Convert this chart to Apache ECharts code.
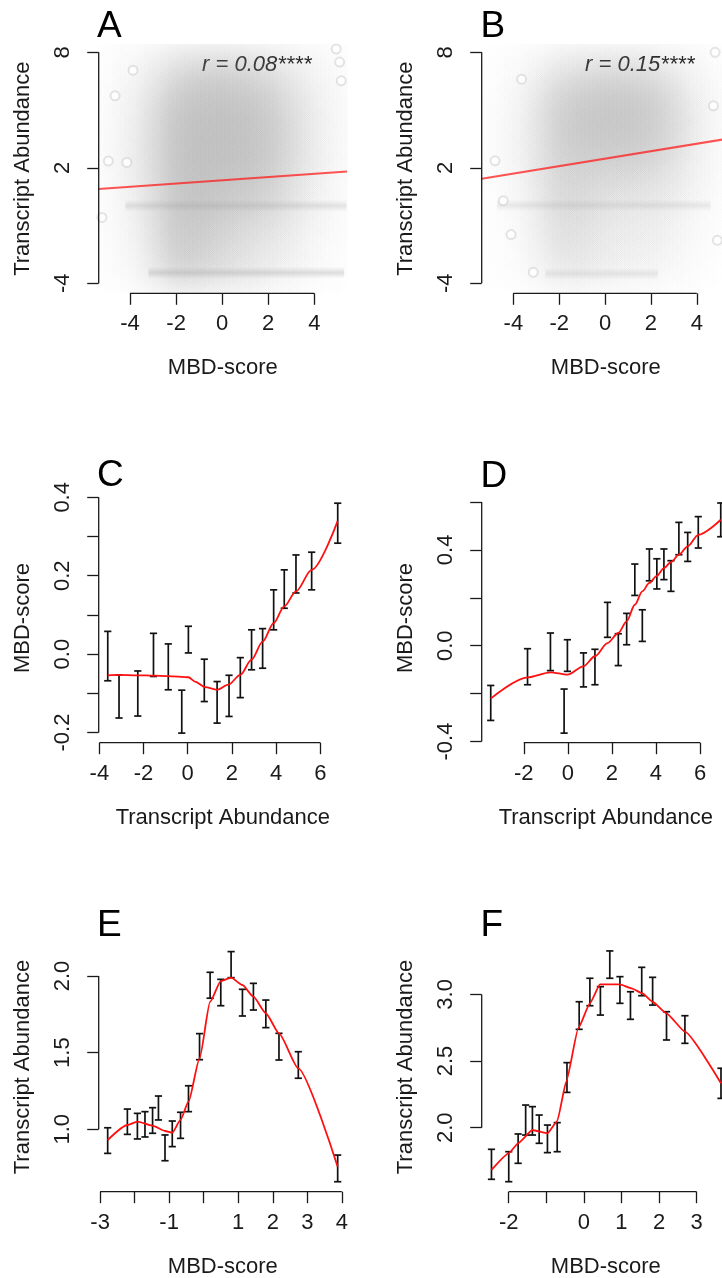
<!DOCTYPE html>
<html><head><meta charset="utf-8">
<script src="https://cdn.jsdelivr.net/npm/echarts@6/dist/echarts.min.js"></script>
<style>html,body{margin:0;padding:0;background:#fff}#c{width:722px;height:1278px}</style>
</head><body><div id="c"></div>
<script>
// ================= DATA =================
// Panels A/B: density of the grey scatter cloud, rows y=8..-4, cols x=-5..5
const densX = [-5,-4,-3,-2,-1,0,1,2,3,4,5];
const densY = [8,7,6,5,4,3,2,1,0,-1,-2,-3,-4];
const densA = [
 [.03,.06,.12,.20,.25,.25,.22,.18,.12,.08,.05],
 [.04,.10,.22,.45,.60,.60,.55,.42,.25,.12,.06],
 [.05,.13,.32,.70,.85,.85,.80,.62,.38,.17,.08],
 [.06,.15,.40,.85,.95,.95,.90,.75,.45,.20,.10],
 [.07,.18,.45,.90,1.0,1.0,.95,.80,.50,.22,.10],
 [.07,.18,.45,.90,1.0,1.0,.95,.80,.50,.22,.10],
 [.07,.18,.45,.90,1.0,.95,.90,.75,.45,.20,.10],
 [.06,.15,.40,.85,.95,.85,.80,.65,.40,.18,.08],
 [.05,.15,.40,.85,.90,.80,.70,.55,.35,.15,.08],
 [.04,.12,.35,.80,.80,.65,.50,.40,.25,.12,.06],
 [.04,.10,.30,.75,.70,.55,.40,.30,.20,.10,.05],
 [.03,.10,.25,.65,.60,.45,.35,.25,.15,.08,.04],
 [.02,.05,.15,.35,.30,.25,.20,.15,.10,.05,.02]
];
const densB = [
 [.02,.04,.08,.14,.18,.18,.18,.15,.10,.06,.03],
 [.03,.06,.14,.32,.42,.46,.46,.40,.26,.11,.05],
 [.03,.08,.25,.55,.70,.75,.75,.65,.40,.15,.06],
 [.04,.10,.30,.65,.80,.85,.85,.75,.50,.20,.08],
 [.04,.10,.30,.70,.85,.85,.85,.75,.50,.20,.08],
 [.04,.10,.30,.65,.75,.75,.75,.65,.45,.18,.07],
 [.04,.10,.28,.60,.65,.60,.60,.50,.35,.15,.06],
 [.03,.08,.25,.55,.55,.45,.40,.35,.25,.12,.05],
 [.03,.08,.20,.50,.50,.35,.30,.30,.20,.10,.04],
 [.02,.06,.18,.45,.40,.30,.25,.25,.15,.08,.03],
 [.02,.05,.15,.40,.35,.25,.20,.20,.12,.06,.03],
 [.02,.05,.12,.30,.30,.20,.18,.15,.10,.05,.02],
 [.01,.03,.06,.15,.15,.10,.10,.08,.05,.03,.01]
];
// horizontal bands of tied values: [xStart, xEnd, y, density]
const bandsA = [[-4.2,5.4,0.03,0.8],[-3.2,5.3,-3.45,1.0]];
const bandsB = [[-4.7,4.6,0.05,0.6],[-2.6,2.3,-3.5,0.6]];
// isolated points
const outA = [[-4.94,2.35],[-4.14,2.28],[-3.87,7.07],[-4.65,5.74],[-5.22,-0.58],[4.95,8.17],[5.17,6.52],[5.1,7.49]];
const outB = [[-4.8,2.36],[-3.64,6.6],[-4.1,-1.47],[-4.44,0.29],[4.73,5.22],[4.8,8.0],[-3.13,-3.43],[4.9,-1.77]];
// regression lines
const regA = [[-5.36,0.90],[5.42,1.81]];
const regB = [[-5.38,1.43],[5.45,3.53]];
const rTextA = 'r = 0.08****';
const rTextB = 'r = 0.15****';

// Panels C-F: error bars [x, low, high] and smooth lines [x, y]
const barsC = [[-3.62,-0.068,0.058],[-3.11,-0.163,-0.053],[-2.26,-0.158,-0.043],[-1.55,-0.057,0.053],[-0.88,-0.091,0.026],[-0.27,-0.2015,-0.092],[0.03,0.003,0.071],[0.75,-0.121,-0.013],[1.33,-0.176,-0.070],[1.87,-0.159,-0.054],[2.38,-0.111,-0.009],[2.89,-0.040,0.062],[3.39,-0.036,0.065],[3.89,0.062,0.164],[4.37,0.117,0.215],[4.90,0.156,0.253],[5.61,0.164,0.260],[6.79,0.283,0.385]];
const lineC = [[-3.62,-0.054],[-3.11,-0.053],[-2.26,-0.054],[-1.55,-0.055],[-0.88,-0.056],[0.03,-0.059],[0.33,-0.070],[0.78,-0.084],[1.33,-0.091],[1.84,-0.078],[2.38,-0.053],[2.89,-0.014],[3.39,0.032],[3.89,0.079],[4.37,0.122],[4.90,0.160],[5.61,0.215],[6.79,0.340]];
const barsD = [[-3.50,-0.312,-0.166],[-1.83,-0.163,-0.0125],[-0.79,-0.104,0.053],[-0.17,-0.365,-0.181],[-0.02,-0.107,0.025],[0.71,-0.172,-0.030],[1.23,-0.163,-0.015],[1.80,0.035,0.181],[2.29,-0.083,0.050],[2.67,0.004,0.135],[3.04,0.210,0.341],[3.38,0.018,0.150],[3.70,0.271,0.404],[4.04,0.237,0.363],[4.36,0.276,0.404],[4.68,0.227,0.355],[5.04,0.380,0.515],[5.44,0.352,0.473],[5.92,0.408,0.539],[6.94,0.455,0.596]];
const lineD = [[-3.50,-0.221],[-1.83,-0.132],[-0.79,-0.111],[-0.02,-0.121],[0.71,-0.086],[1.23,-0.044],[1.80,0.011],[2.29,0.053],[2.67,0.102],[3.04,0.171],[3.38,0.227],[3.70,0.262],[4.04,0.292],[4.36,0.324],[4.68,0.349],[5.04,0.380],[5.44,0.415],[5.92,0.463],[6.94,0.526]];
const barsE = [[-2.78,0.843,1.010],[-2.21,0.967,1.132],[-1.92,0.937,1.104],[-1.70,0.950,1.115],[-1.48,0.974,1.141],[-1.31,1.061,1.217],[-1.12,0.795,0.963],[-0.91,0.887,1.054],[-0.67,0.941,1.111],[-0.44,1.115,1.284],[-0.12,1.454,1.624],[0.186,1.855,2.024],[0.495,1.806,1.978],[0.794,1.989,2.159],[1.122,1.739,1.913],[1.44,1.778,1.952],[1.80,1.663,1.843],[2.18,1.452,1.626],[2.74,1.333,1.506],[3.88,0.658,0.832]];
const lineE = [[-2.78,0.930],[-2.21,1.028],[-1.92,1.050],[-1.48,1.024],[-1.12,0.989],[-0.91,0.978],[-0.67,1.061],[-0.44,1.180],[-0.12,1.463],[0.186,1.832],[0.495,1.967],[0.794,1.989],[1.122,1.941],[1.44,1.865],[1.80,1.757],[2.18,1.626],[2.74,1.398],[3.88,0.756]];
const barsF = [[-2.46,1.613,1.838],[-2.00,1.595,1.820],[-1.75,1.733,1.953],[-1.55,1.945,2.170],[-1.37,1.945,2.158],[-1.19,1.883,2.095],[-0.97,1.813,2.020],[-0.71,1.820,2.038],[-0.45,2.265,2.488],[-0.125,2.738,2.945],[0.16,2.915,3.121],[0.44,2.845,3.058],[0.69,3.121,3.326],[0.96,2.933,3.133],[1.24,2.813,3.020],[1.54,2.990,3.203],[1.83,2.920,3.128],[2.20,2.658,2.870],[2.69,2.633,2.840],[3.65,2.220,2.446]];
const lineF = [[-2.46,1.683],[-2.00,1.808],[-1.75,1.883],[-1.37,1.983],[-0.97,1.958],[-0.71,2.050],[-0.47,2.345],[-0.15,2.745],[0.16,2.933],[0.43,3.075],[0.96,3.075],[1.27,3.045],[1.56,3.008],[1.83,2.945],[2.20,2.858],[2.69,2.720],[3.65,2.333]];

// tick positions and labelled ticks
const ticksAx = [-4,-2,0,2,4], ticksAy = [-4,2,8];
const ticksCx = [-4,-2,0,2,4,6], ticksCy = [-0.2,-0.1,0,0.1,0.2,0.3,0.4], labelsCy = [-0.2,0,0.2,0.4];
const ticksDx = [-2,0,2,4,6], ticksDy = [-0.4,-0.2,0,0.2,0.4,0.6], labelsDy = [-0.4,0,0.4];
const ticksEx = [-3,-2,-1,0,1,2,3,4], labelsEx = [-3,-1,1,2,3,4], ticksEy = [1,1.5,2];
const ticksFx = [-2,-1,0,1,2,3], labelsFx = [-2,0,1,2,3], ticksFy = [2,2.5,3];
const panelLetters = ['A','B','C','D','E','F'];
const nameMBD = 'MBD-score', nameTA = 'Transcript Abundance';

// ================= RENDER =================
const FONT = '"Liberation Sans", Arial, Helvetica, sans-serif';
const INK = '#1a1a1a';
const chart = echarts.init(document.getElementById('c'), null, {renderer:'canvas', width:722, height:1278});

const L = 98.7, R = 481.7, W = 248.3, H = 249.3;
const tops = [44, 493.4, 942.4];
const panels = [
 {left:L, top:tops[0], xr:[-5.36,5.42], yr:[-4.52,8.43], xt:ticksAx, xl:ticksAx, yt:ticksAy, yl:ticksAy, xn:nameMBD, yn:nameTA, yf:0},
 {left:R, top:tops[0], xr:[-5.38,5.45], yr:[-4.52,8.43], xt:ticksAx, xl:ticksAx, yt:ticksAy, yl:ticksAy, xn:nameMBD, yn:nameTA, yf:0},
 {left:L, top:tops[1], xr:[-4.03,7.21], yr:[-0.226,0.41], xt:ticksCx, xl:ticksCx, yt:ticksCy, yl:labelsCy, xn:nameTA, yn:nameMBD, yf:1},
 {left:R, top:tops[1], xr:[-3.91,7.36], yr:[-0.405,0.636], xt:ticksDx, xl:ticksDx, yt:ticksDy, yl:labelsDy, xn:nameTA, yn:nameMBD, yf:1},
 {left:L, top:tops[2], xr:[-3.04,4.15], yr:[0.593,2.219], xt:ticksEx, xl:labelsEx, yt:ticksEy, yl:ticksEy, xn:nameMBD, yn:nameTA, yf:1},
 {left:R, top:tops[2], xr:[-2.72,3.89], yr:[1.52,3.39], xt:ticksFx, xl:labelsFx, yt:ticksFy, yl:ticksFy, xn:nameMBD, yn:nameTA, yf:1}
];

const grid = [], xAxis = [], yAxis = [], series = [], graphic = [];
const txt = {color:INK, fontSize:22, fontFamily:FONT};
panels.forEach((p, i) => {
  grid.push({left:p.left, top:p.top, width:W, height:H, containLabel:false, outerBoundsMode:'none'});
  xAxis.push({type:'value', gridIndex:i, min:p.xr[0], max:p.xr[1], position:'bottom',
    axisLine:{show:false, onZero:false}, splitLine:{show:false},
    axisTick:{show:true, customValues:p.xt, length:11.5, lineStyle:{color:INK, width:1.3}},
    axisLabel:{show:true, customValues:p.xl, margin:20, formatter:v=>String(v), ...txt},
    name:p.xn, nameLocation:'middle', nameGap:64, nameTextStyle:txt});
  yAxis.push({type:'value', gridIndex:i, min:p.yr[0], max:p.yr[1], position:'left',
    axisLine:{show:false, onZero:false}, splitLine:{show:false},
    axisTick:{show:true, customValues:p.yt, length:11.5, lineStyle:{color:INK, width:1.3}},
    axisLabel:{show:true, customValues:p.yl, rotate:90, margin:25, formatter:v=>p.yf? v.toFixed(1) : String(v), ...txt},
    name:p.yn, nameLocation:'middle', nameGap:65, nameTextStyle:txt});
  // R-style axis lines: from first to last tick
  const axStyle = {color:INK, width:1.3};
  series.push({type:'line', xAxisIndex:i, yAxisIndex:i, clip:false, silent:true, symbol:'none', z:5,
    lineStyle:axStyle, data:[[p.xt[0], p.yr[0]],[p.xt[p.xt.length-1], p.yr[0]]]});
  series.push({type:'line', xAxisIndex:i, yAxisIndex:i, clip:false, silent:true, symbol:'none', z:5,
    lineStyle:axStyle, data:[[p.xr[0], p.yt[0]],[p.xr[0], p.yt[p.yt.length-1]]]});
});

function densData(m){
  const out = [];
  densY.forEach((y, r) => densX.forEach((x, c) => { if (m[r][c] > 0) out.push([x, y, m[r][c]]); }));
  return out;
}
// gaussian-like soft blob for each density cell
const GAUSS = [[0,1],[0.15,0.91],[0.3,0.69],[0.45,0.44],[0.6,0.23],[0.75,0.1],[0.9,0.035],[1,0]];
function blob(params, api){
  const c = api.coord([api.value(0), api.value(1)]);
  const s = api.size([1,1]);
  const r = 2.0 * (s[0] + s[1]) / 2;
  const a = 0.27 * api.value(2);
  return {type:'circle', shape:{cx:c[0], cy:c[1], r:r},
    style:{fill:new echarts.graphic.RadialGradient(0.5,0.5,0.5,
      GAUSS.map(g => ({offset:g[0], color:'rgba(150,150,150,'+(a*g[1]).toFixed(4)+')'})))}};
}
function band(params, api){
  const p0 = api.coord([api.value(0), api.value(2)]);
  const p1 = api.coord([api.value(1), api.value(2)]);
  const h = 12, a = 0.3 * api.value(3);
  return {type:'rect', shape:{x:p0[0], y:p0[1]-h/2, width:p1[0]-p0[0], height:h},
    style:{fill:new echarts.graphic.LinearGradient(0,0,0,1,[
      {offset:0, color:'rgba(150,150,150,0)'},
      {offset:0.5, color:'rgba(150,150,150,'+a+')'},
      {offset:1, color:'rgba(150,150,150,0)'}])}};
}
function errBar(params, api){
  const x = api.value(0);
  const a = api.coord([x, api.value(1)]), b = api.coord([x, api.value(2)]);
  const cap = 3.6, st = {stroke:'#111', lineWidth:1.7};
  return {type:'group', children:[
    {type:'line', shape:{x1:a[0], y1:a[1], x2:b[0], y2:b[1]}, style:st},
    {type:'line', shape:{x1:a[0]-cap, y1:a[1], x2:a[0]+cap, y2:a[1]}, style:st},
    {type:'line', shape:{x1:b[0]-cap, y1:b[1], x2:b[0]+cap, y2:b[1]}, style:st}]};
}

[[densA, bandsA, outA, regA],[densB, bandsB, outB, regB]].forEach((d, i) => {
  series.push({type:'custom', xAxisIndex:i, yAxisIndex:i, clip:true, silent:true, z:1,
    renderItem:blob, encode:{x:0, y:1}, data:densData(d[0])});
  series.push({type:'custom', xAxisIndex:i, yAxisIndex:i, clip:true, silent:true, z:2,
    renderItem:band, encode:{x:[0,1], y:2}, data:d[1]});
  series.push({type:'scatter', xAxisIndex:i, yAxisIndex:i, silent:true, z:3, symbol:'emptyCircle', symbolSize:9,
    itemStyle:{color:'rgba(190,190,190,0.5)', borderWidth:1}, data:d[2]});
  series.push({type:'line', xAxisIndex:i, yAxisIndex:i, silent:true, z:4, symbol:'none',
    lineStyle:{color:'rgba(255,20,20,0.72)', width:2}, data:d[3]});
});
[[barsC, lineC, 0.3],[barsD, lineD, 0.3],[barsE, lineE, 0.2],[barsF, lineF, 0.15]].forEach((d, k) => {
  const i = k + 2;
  series.push({type:'custom', xAxisIndex:i, yAxisIndex:i, silent:true, z:3,
    renderItem:errBar, encode:{x:0, y:[1,2]}, data:d[0]});
  series.push({type:'line', xAxisIndex:i, yAxisIndex:i, silent:true, z:4, symbol:'none',
    smooth:d[2], smoothMonotone:'x', lineStyle:{color:'#ff1010', width:1.8}, data:d[1]});
});

// panel letters and r annotations
const letterPos = [[97,26.5],[480.5,26.5],[97,476],[480.5,476.5],[97,925.5],[480.5,925.5]];
panelLetters.forEach((t, i) => graphic.push({type:'text', x:letterPos[i][0], y:letterPos[i][1],
  style:{text:t, fontSize:37, fontFamily:FONT, fill:'#000', verticalAlign:'middle', align:'left'}}));
graphic.push({type:'text', x:202, y:65, style:{text:rTextA, fontSize:22, fontStyle:'italic', fontFamily:FONT, fill:INK, verticalAlign:'middle'}});
graphic.push({type:'text', x:585, y:65, style:{text:rTextB, fontSize:22, fontStyle:'italic', fontFamily:FONT, fill:INK, verticalAlign:'middle'}});

chart.setOption({animation:false, backgroundColor:'#fff', grid, xAxis, yAxis, series, graphic});
</script></body></html>
